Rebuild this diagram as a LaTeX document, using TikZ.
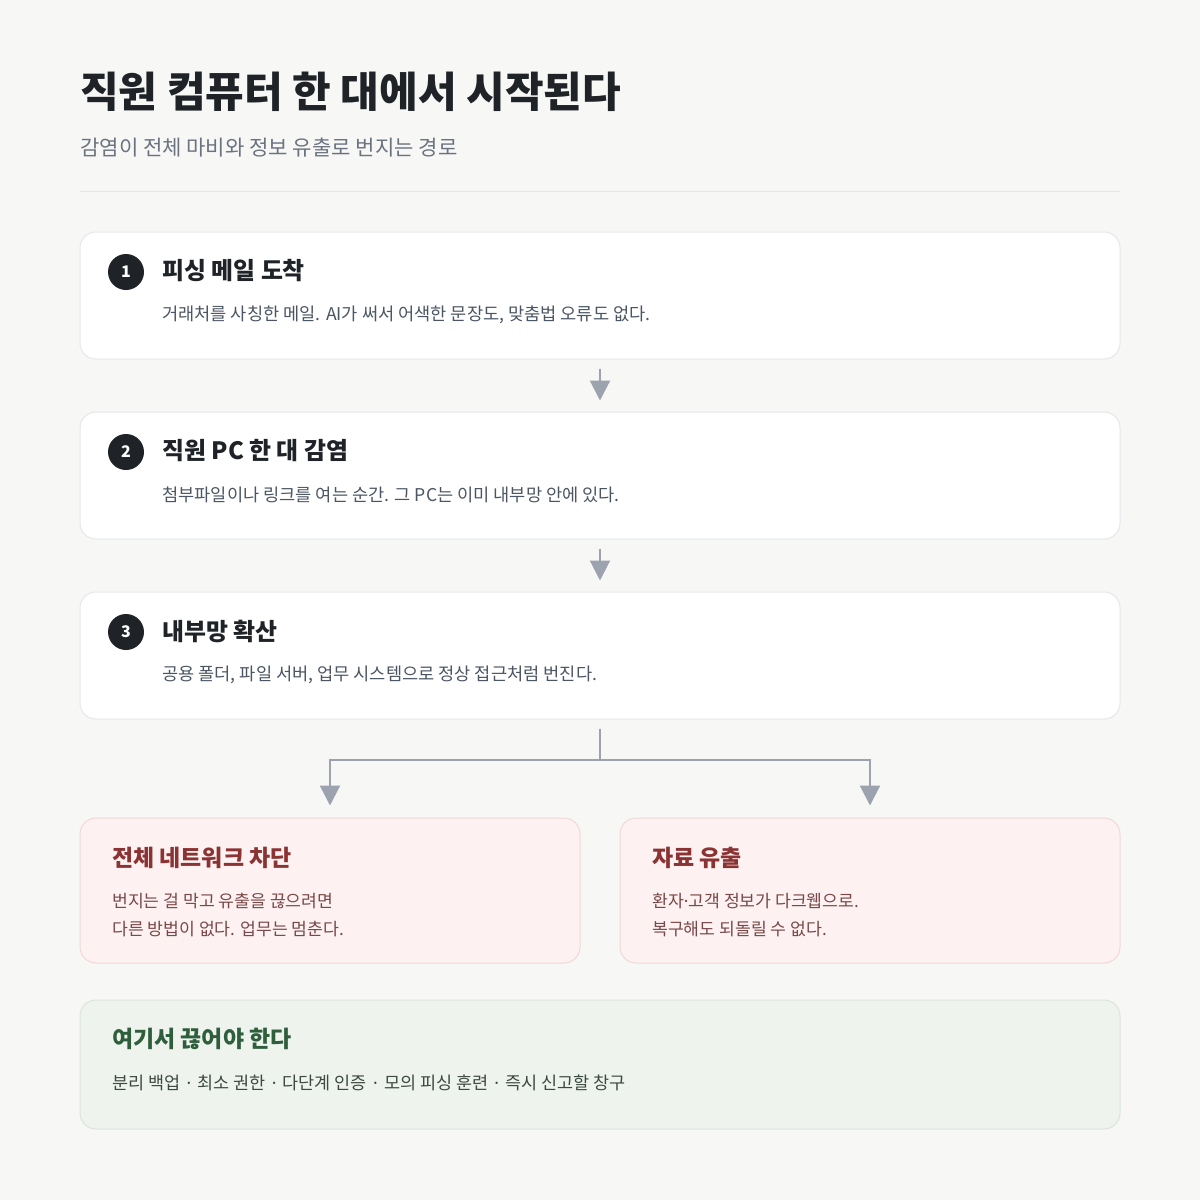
\documentclass[tikz,border=0pt]{standalone}
\usepackage{fontspec}
\setmainfont{Noto Sans CJK KR}
\newfontfamily\dotfont{Noto Sans}
\newcommand{\md}{{\dotfont ·}}
\newcommand{\sepdot}{\hspace{1.7pt} \md{} \hspace{1.7pt}}
\usetikzlibrary{arrows.meta}
\definecolor{bg}{HTML}{F7F7F5}
\definecolor{ink}{HTML}{1F2328}
\definecolor{subt}{HTML}{6B7280}
\definecolor{desc}{HTML}{4B5563}
\definecolor{cardline}{HTML}{E5E7EB}
\definecolor{arrowc}{HTML}{9CA3AF}
\definecolor{redfill}{HTML}{FDF1F1}
\definecolor{redline}{HTML}{F0D8D8}
\definecolor{redtitle}{HTML}{8B3333}
\definecolor{redtext}{HTML}{7A4848}
\definecolor{grnfill}{HTML}{EEF3EE}
\definecolor{grnline}{HTML}{DCE5DC}
\definecolor{grntitle}{HTML}{2E5E3B}
\definecolor{grntext}{HTML}{3D4A40}
\definecolor{divc}{HTML}{E6E6E6}
\tikzset{
  card/.style={draw=cardline, fill=white, line width=0.75pt, rounded corners=12pt, minimum width=780pt, minimum height=95.25pt, inner sep=0pt},
  redcard/.style={draw=redline, fill=redfill, line width=0.75pt, rounded corners=12pt, minimum width=375pt, minimum height=108.75pt, inner sep=0pt},
  grncard/.style={draw=grnline, fill=grnfill, line width=0.75pt, rounded corners=12pt, minimum width=780pt, minimum height=96.75pt, inner sep=0pt},
  badge/.style={circle, fill=ink, minimum size=27pt, inner sep=0pt, text=white, font=\fontsize{12}{14}\selectfont\bfseries},
  ctitle/.style={anchor=west, inner sep=0pt, text=ink, font=\fontsize{17.9}{21}\selectfont\bfseries},
  cdesc/.style={anchor=west, inner sep=0pt, text=desc, font=\fontsize{13.2}{16}\selectfont},
  rtitle/.style={anchor=west, inner sep=0pt, text=redtitle, font=\fontsize{17.2}{21}\selectfont\bfseries},
  rdesc/.style={anchor=west, inner sep=0pt, text=redtext, align=left, font=\fontsize{12.9}{21}\selectfont},
  flow/.style={draw=arrowc, line width=1.6pt, -{Triangle[width=15pt,length=15pt]}},
  flowline/.style={draw=arrowc, line width=1.6pt},
}
\begin{document}
\begin{tikzpicture}[x=0.75pt,y=-0.75pt]
\fill[bg] (0,0) rectangle (1200,1200);
\useasboundingbox (0,0) rectangle (1200,1200);
% header
\node[anchor=west, inner sep=0pt, text=ink, font=\fontsize{31.5}{36}\selectfont\bfseries] (title) at (80,92) {직원 컴퓨터 한 대에서 시작된다};
\node[anchor=west, inner sep=0pt, text=subt, font=\fontsize{15.8}{19}\selectfont] (subtitle) at (80,148) {감염이 전체 마비와 정보 유출로 번지는 경로};
\draw[divc, line width=0.75pt] (80,191) -- (1120,191);
% cards
\node[card] (b1) at (600,295.5) {};
\node[card] (b2) at (600,475.5) {};
\node[card] (b3) at (600,655.5) {};
\node[badge] (n1) at (126,272) {1};
\node[badge] (n2) at (126,452) {2};
\node[badge] (n3) at (126,632) {3};
\node[ctitle] (t1) at (162,271) {피싱 메일 도착};
\node[cdesc] (d1) at (162,315) {거래처를 사칭한 메일. AI가 써서 어색한 문장도, 맞춤법 오류도 없다.};
\node[ctitle] (t2) at (162,451) {직원 PC 한 대 감염};
\node[cdesc] (d2) at (162,495) {첨부파일이나 링크를 여는 순간. 그 PC는 이미 내부망 안에 있다.};
\node[ctitle] (t3) at (162,631) {내부망 확산};
\node[cdesc] (d3) at (162,675) {공용 폴더, 파일 서버, 업무 시스템으로 정상 접근처럼 번진다.};
% outcome cards
\node[redcard] (r1) at (330,890.5) {};
\node[redcard] (r2) at (870,890.5) {};
\node[rtitle] (rt1) at (112,858) {전체 네트워크 차단};
\node[rdesc] (rd1) at (112,915) {번지는 걸 막고 유출을 끊으려면\\다른 방법이 없다. 업무는 멈춘다.};
\node[rtitle] (rt2) at (652,858) {자료 유출};
\node[rdesc] (rd2) at (652,915) {환자\md 고객 정보가 다크웹으로.\\복구해도 되돌릴 수 없다.};
% green card
\node[grncard] (g) at (600,1064.5) {};
\node[anchor=west, inner sep=0pt, text=grntitle, font=\fontsize{17.2}{21}\selectfont\bfseries] (gt) at (112,1039) {여기서 끊어야 한다};
\node[anchor=west, inner sep=0pt, text=grntext, font=\fontsize{13.1}{16}\selectfont] (gd) at (112,1083) {분리 백업\sepdot 최소 권한\sepdot 다단계 인증\sepdot 모의 피싱 훈련\sepdot 즉시 신고할 창구};
% connectors
\draw[flow] ([yshift=-6.75pt]b1.south) -- ([yshift=8.25pt]b2.north);
\draw[flow] ([yshift=-6.75pt]b2.south) -- ([yshift=8.25pt]b3.north);
\coordinate (j) at (600,760);
\draw[flowline] ([yshift=-6.75pt]b3.south) -- (j);
\draw[flow] (j) -| ([yshift=9pt]r1.north);
\draw[flow] (j) -| ([yshift=9pt]r2.north);
\end{tikzpicture}
\end{document}
